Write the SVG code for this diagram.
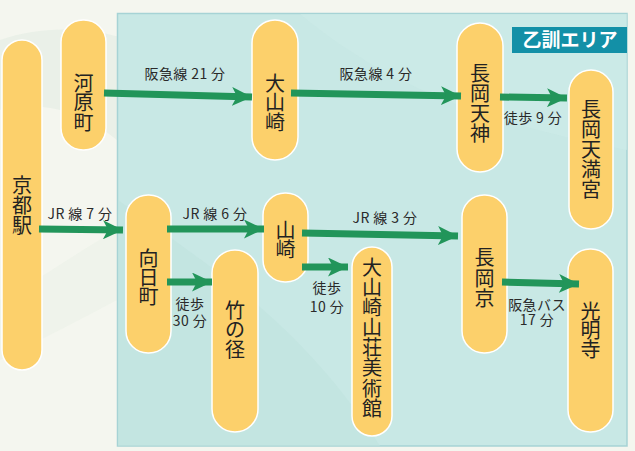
<svg xmlns="http://www.w3.org/2000/svg" width="635" height="451" viewBox="0 0 635 451">
<defs>
<style>
.pill{fill:#fcd06b;stroke:#ffffff;stroke-width:1.5}
.st{font-family:"Noto Sans CJK JP","Noto Sans",sans-serif;font-size:20px;fill:#222222;text-anchor:middle}
.lb{font-family:"Noto Sans CJK JP","Noto Sans",sans-serif;font-size:14px;fill:#2a2a2a;text-anchor:middle;letter-spacing:0.4px}
.cn{stroke:#22955a;stroke-width:7;fill:none;marker-end:url(#ah)}
</style>
<marker id="ah" markerUnits="userSpaceOnUse" markerWidth="21" markerHeight="19" refX="20" refY="9.5" orient="auto">
<path d="M0,0 L20,9.5 L0,19 L5,9.5 Z" fill="#22955a"/>
</marker>
</defs>
<rect x="0" y="0" width="635" height="451" fill="#f4f6ef"/>
<path d="M0,40 C60,20 120,30 180,60 L117,140 C80,110 40,100 0,110 Z" fill="#e3ece2" opacity="0.6"/>
<path d="M0,300 C40,280 80,250 117,230 L117,300 C80,320 40,340 0,360 Z" fill="#ebf1e8" opacity="0.6"/>
<g id="area">
<rect x="117.5" y="13.5" width="509.5" height="432.5" fill="#c8e8e5" stroke="#a6d3d5" stroke-width="1.5"/>
<path d="M118,200 C200,260 300,320 380,446 L118,446 Z" fill="#bfe2dd" opacity="0.6"/>
<path d="M300,14 C380,80 470,120 627,150 L627,14 Z" fill="#cdebe8" opacity="0.6"/>
</g>
<g id="area-label">
<rect x="512" y="27" width="115" height="26" fill="#1390a7"/>
<text x="570" y="47" font-family="'Noto Sans CJK JP',sans-serif" font-size="19" font-weight="bold" fill="#ffffff" text-anchor="middle">乙訓エリア</text>
</g>
<g id="kyoto">
<rect class="pill" x="2" y="40" width="40" height="330" rx="20"/>
<text class="st"><tspan x="22" y="193">京</tspan><tspan x="22" y="213">都</tspan><tspan x="22" y="233">駅</tspan></text>
</g>
<g id="kawaramachi">
<rect class="pill" x="61" y="20" width="45" height="130" rx="22"/>
<text class="st"><tspan x="83.5" y="91">河</tspan><tspan x="83.5" y="110">原</tspan><tspan x="83.5" y="130">町</tspan></text>
</g>
<g id="oyamazaki">
<rect class="pill" x="252" y="20" width="46" height="140" rx="23"/>
<text class="st"><tspan x="275" y="91">大</tspan><tspan x="275" y="110">山</tspan><tspan x="275" y="130">崎</tspan></text>
</g>
<g id="nagaokatenjin">
<rect class="pill" x="457" y="23" width="46" height="149" rx="23"/>
<text class="st"><tspan x="480" y="81">長</tspan><tspan x="480" y="101">岡</tspan><tspan x="480" y="121">天</tspan><tspan x="480" y="141">神</tspan></text>
</g>
<g id="nagaokatenmangu">
<rect class="pill" x="569" y="70" width="44" height="159" rx="22"/>
<text class="st"><tspan x="591" y="117">長</tspan><tspan x="591" y="137">岡</tspan><tspan x="591" y="157">天</tspan><tspan x="591" y="177">満</tspan><tspan x="591" y="197">宮</tspan></text>
</g>
<g id="mukomachi">
<rect class="pill" x="126" y="195" width="45" height="158" rx="22"/>
<text class="st"><tspan x="148.5" y="266">向</tspan><tspan x="148.5" y="285">日</tspan><tspan x="148.5" y="304">町</tspan></text>
</g>
<g id="yamazaki">
<rect class="pill" x="263" y="193" width="45" height="89" rx="22"/>
<text class="st"><tspan x="285.5" y="238">山</tspan><tspan x="285.5" y="257">崎</tspan></text>
</g>
<g id="takenokomichi">
<rect class="pill" x="212" y="250" width="46" height="182" rx="23"/>
<text class="st"><tspan x="235" y="318">竹</tspan><tspan x="235" y="337">の</tspan><tspan x="235" y="357">径</tspan></text>
</g>
<g id="museum">
<rect class="pill" x="352" y="247" width="40" height="189" rx="20"/>
<text class="st"><tspan x="372" y="275">大</tspan><tspan x="372" y="295">山</tspan><tspan x="372" y="315">崎</tspan><tspan x="372" y="335">山</tspan><tspan x="372" y="355">荘</tspan><tspan x="372" y="375">美</tspan><tspan x="372" y="396">術</tspan><tspan x="372" y="416">館</tspan></text>
</g>
<g id="nagaokakyo">
<rect class="pill" x="462" y="195" width="45" height="158" rx="22"/>
<text class="st"><tspan x="484.5" y="265">長</tspan><tspan x="484.5" y="286">岡</tspan><tspan x="484.5" y="306">京</tspan></text>
</g>
<g id="komyoji">
<rect class="pill" x="568" y="249" width="45" height="183" rx="22"/>
<text class="st"><tspan x="590.5" y="319">光</tspan><tspan x="590.5" y="338">明</tspan><tspan x="590.5" y="357">寺</tspan></text>
</g>
<g id="connectors">
<path class="cn" d="M104,93 L252,97"/>
<path class="cn" d="M291,93 L461,96"/>
<path class="cn" d="M500,97 L567,98"/>
<path class="cn" d="M39,229 L123,230"/>
<path class="cn" d="M167,229 L264,229"/>
<path class="cn" d="M167,282 L212,282"/>
<path class="cn" d="M302,233 L458,236"/>
<path class="cn" d="M302,267 L348,267"/>
<path class="cn" d="M502,282 L579,284"/>
<text class="lb" x="185" y="79">阪急線 21 分</text>
<text class="lb" x="376" y="79">阪急線 4 分</text>
<text class="lb" x="533" y="123">徒歩 9 分</text>
<text class="lb" x="80" y="219">JR 線 7 分</text>
<text class="lb" x="215" y="219">JR 線 6 分</text>
<text class="lb" x="385" y="223">JR 線 3 分</text>
<text class="lb" x="190" y="309">徒歩</text>
<text class="lb" x="190" y="326">30 分</text>
<text class="lb" x="327" y="293">徒歩</text>
<text class="lb" x="327" y="312">10 分</text>
<text class="lb" x="537" y="310">阪急バス</text>
<text class="lb" x="537" y="325">17 分</text>
</g>
</svg>
